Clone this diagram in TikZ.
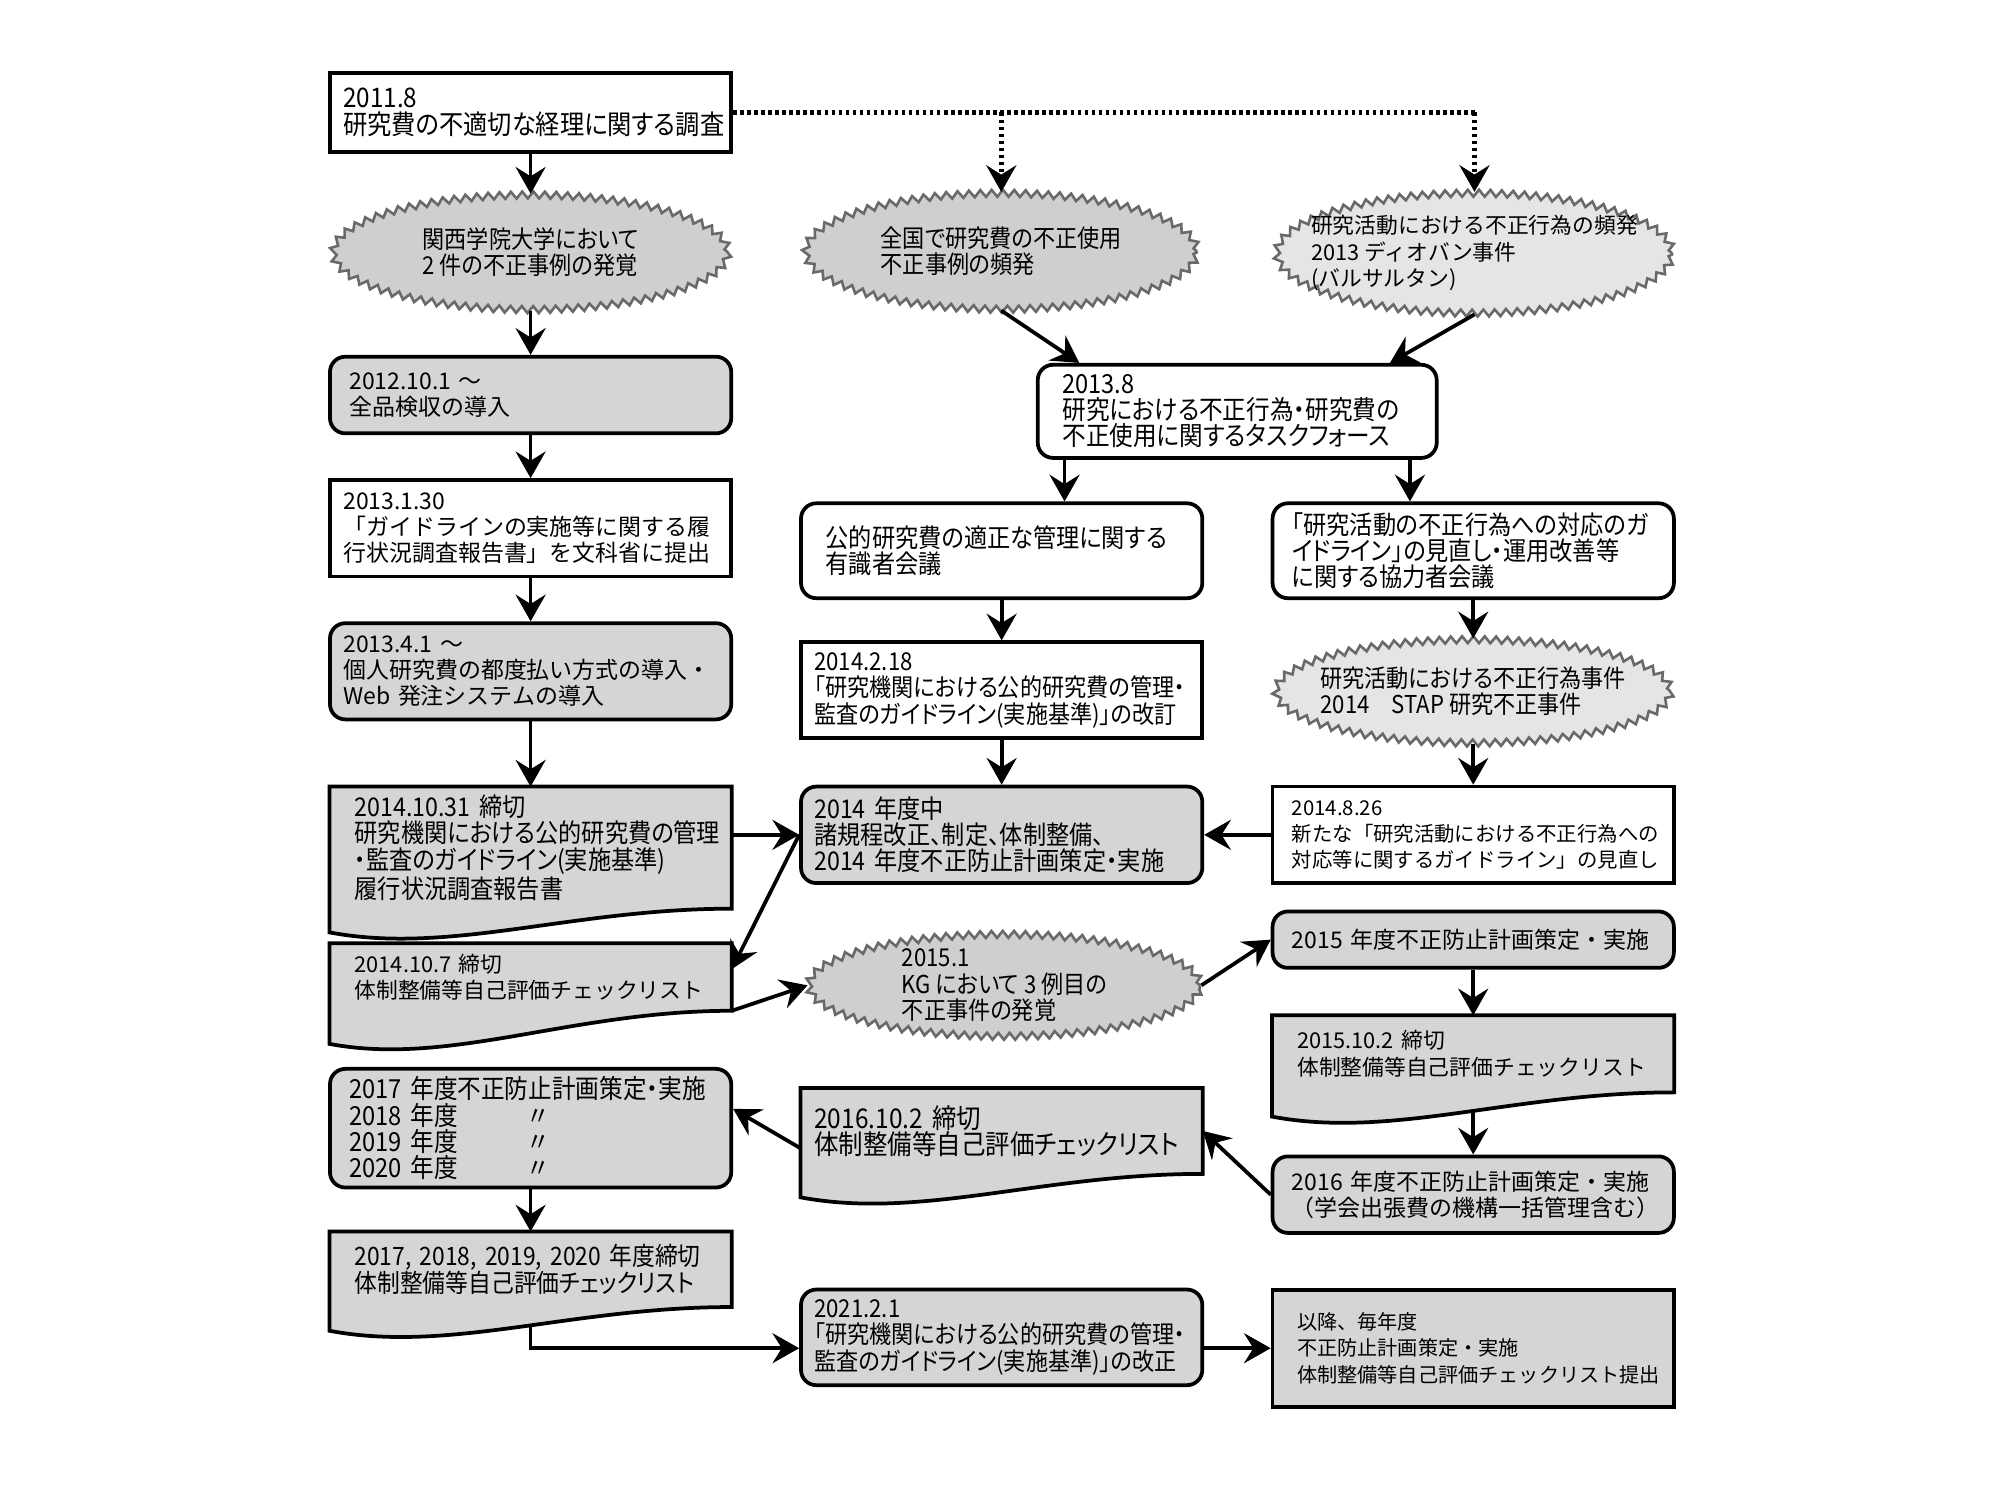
\documentclass[tikz,border=0pt]{standalone}
\usepackage{fontspec}
\setmainfont{Noto Sans CJK JP}
\newfontfamily\condjp{Noto Sans CJK JP}[FakeStretch=0.9,RawFeature=+palt]
\usetikzlibrary{shapes.geometric,decorations.pathmorphing,arrows.meta,backgrounds,calc}

\definecolor{boxgray}{RGB}{212,213,215}
\definecolor{burstgray}{RGB}{206,207,209}
\definecolor{burstlight}{RGB}{228,229,231}
\definecolor{burstline}{RGB}{105,105,105}

% font sizes: regular and condensed
\newcommand\rf[1]{\fontsize{#1pt}{11.2pt}\selectfont}
\newcommand\cf[1]{\condjp\fontsize{#1pt}{11.2pt}\selectfont}

\tikzset{
  box/.style={draw, line width=1.6pt, rectangle, align=left, minimum width=6.02cm, font=\rf{9.8}},
  padA/.style={inner xsep=0.2cm, text width=5.62cm},
  padB/.style={inner xsep=0.29cm, text width=5.44cm},
  padC/.style={inner xsep=0.37cm, text width=5.28cm},
  plainbox/.style={box, fill=white},
  roundbox/.style={box, rounded corners=0.23cm, fill=white},
  graybox/.style={roundbox, fill=boxgray},
  docbox/.style={rectangle, align=left, minimum width=6.02cm, anchor=north, font=\rf{9.8}},
  burst/.style={ellipse, draw=burstline, line width=1.1pt, fill=burstgray,
    inner xsep=-0.7cm, inner ysep=-0.25cm, align=left, font=\cf{10.5},
    decorate, decoration={zigzag, amplitude=0.052cm, segment length=0.17cm}},
  arr/.style={line width=1.6pt, -{Stealth[length=0.4cm, width=0.45cm, inset=0.14cm]}},
  dotline/.style={line width=2pt, dash pattern=on 1.5pt off 1.5pt},
  dotarr/.style={arr, dotline},
}

% document shape with wavy bottom behind a docbox node
\newcommand\docwave[2]{%
  \begin{scope}[on background layer]
    \filldraw[line width=1.6pt, fill=boxgray] (#1.north west) -- (#1.north east) -- (#1.south east)
      .. controls +(-2.41cm,0cm) and +(1.81cm,-0.34cm) .. ([yshift=-#2cm]#1.south west) -- cycle;
  \end{scope}
  \coordinate (#1-b) at ([yshift={-(0.118cm+0.44*#2cm)}]#1.south);
}

\begin{document}
\begin{tikzpicture}[x=0.019133cm, y=-0.019133cm]
  \useasboundingbox (0,0) rectangle (1568,1176);

  % left column
  \node[plainbox, padA, font=\cf{11.5}, minimum height=1.175cm] (survey) at (416,88.2)
    {2011.8\\研究費の不適切な経理に関する調査};
  \node[burst, minimum width=5.92cm, minimum height=1.72cm] (kgcase) at (416,197.8)
    {関西学院大学において\\2 件の不正事例の発覚};
  \node[graybox, padB, minimum height=1.15cm] (inspect) at (416,309.7)
    {2012.10.1 ～\\全品検収の導入};
  \node[plainbox, padA, minimum height=1.448cm] (report) at (416,414.2)
    {2013.1.30\\「ガイドラインの実施等に関する履\\行状況調査報告書」を文科省に提出};
  \node[graybox, padA, minimum height=1.443cm] (payment) at (416,526.3)
    {2013.4.1 ～\\個人研究費の都度払い方式の導入・\\Web 発注システムの導入};
  \node[docbox, padC, font=\cf{11}, minimum height=1.575cm] (check31) at (416,616.7)
    {2014.10.31 締切\\研究機関における公的研究費の管理\\・監査のガイドライン(実施基準)\\履行状況調査報告書};
  \node[docbox, padC, font=\rf{9.3}, minimum height=0.999cm] (check7) at (416,739.5)
    {2014.10.7 締切\\体制整備等自己評価チェックリスト};
  \node[graybox, padB, font=\cf{11.2}, minimum height=1.703cm] (plan17) at (416,884.5)
    {2017 年度不正防止計画策定・実施\\
     \makebox[2.66cm][l]{2018 年度}〃\\
     \makebox[2.66cm][l]{2019 年度}〃\\
     \makebox[2.66cm][l]{2020 年度}〃};
  \node[docbox, padC, font=\cf{10.8}, minimum height=1.119cm] (check17) at (416,965.5)
    {\mbox{2017, 2018, 2019, 2020 年度締切}\\体制整備等自己評価チェックリスト};

  % middle column
  \node[burst, minimum width=5.87cm, minimum height=1.74cm] (nation) at (785,197)
    {全国で研究費の不正使用\\不正事例の頻発};
  \node[roundbox, padC, font=\cf{11.2}, minimum width=5.985cm, text width=5.245cm,
    minimum height=1.397cm] (taskforce) at (970,322.5)
    {2013.8\\研究における不正行為・研究費の\\不正使用に関するタスクフォース};
  \node[roundbox, padC, font=\cf{11}, minimum height=1.424cm] (experts) at (785.3,431.8)
    {公的研究費の適正な管理に関する\\有識者会議};
  \node[plainbox, padA, font=\cf{10.5}, minimum height=1.441cm] (revise14) at (785.3,541.2)
    {2014.2.18\\「研究機関における公的研究費の管理・\\監査のガイドライン(実施基準)」の改訂};
  \node[graybox, padA, font=\cf{11}, minimum height=1.448cm] (fy14) at (785.3,654.5)
    {2014 年度中\\諸規程改正、制定、体制整備、\\2014 年度不正防止計画策定・実施};
  \node[burst, minimum width=5.87cm, minimum height=1.53cm] (kg3) at (787.5,772.5)
    {2015.1\\KG において 3 例目の\\不正事件の発覚};
  \node[docbox, padA, font=\cf{11.6}, minimum height=1.274cm] (check16) at (785.3,853)
    {2016.10.2 締切\\体制整備等自己評価チェックリスト};
  \node[graybox, padA, font=\cf{10.5}, minimum height=1.435cm] (revise21) at (785.3,1048.5)
    {2021.2.1\\「研究機関における公的研究費の管理・\\監査のガイドライン(実施基準)」の改正};

  % right column
  \node[burst, fill=burstlight, font=\rf{9.3}, minimum width=5.93cm, minimum height=1.80cm]
    (misconduct) at (1156,198.5) {研究活動における不正行為の頻発\\2013 ディオバン事件\\(バルサルタン)};
  \node[roundbox, padB, font=\cf{11}, minimum height=1.424cm] (cooperators) at (1155,431.8)
    {「研究活動の不正行為への対応のガ\\イドライン」の見直し・運用改善等\\に関する協力者会議};
  \node[burst, fill=burstlight, minimum width=5.92cm, minimum height=1.55cm] (stap) at (1155,542)
    {研究活動における不正行為事件\\2014　STAP 研究不正事件};
  \node[plainbox, padB, font=\rf{8.7}, minimum height=1.448cm] (guide26) at (1155,654.5)
    {2014.8.26\\新たな「研究活動における不正行為への\\対応等に関するガイドライン」の見直し};
  \node[graybox, padB, minimum height=0.846cm] (fy15) at (1155,736.7)
    {2015 年度不正防止計画策定・実施};
  \node[docbox, padC, font=\rf{9.3}, minimum height=1.142cm] (check15) at (1155,796)
    {2015.10.2 締切\\体制整備等自己評価チェックリスト};
  \node[graybox, padB, minimum height=1.148cm] (fy16) at (1155,936.6)
    {2016 年度不正防止計画策定・実施\\（学会出張費の機構一括管理含む）};
  \node[plainbox, fill=boxgray, padC, font=\rf{8.6}, minimum height=1.755cm] (yearly) at (1155,1057)
    {以降、毎年度\\不正防止計画策定・実施\\体制整備等自己評価チェックリスト提出};

  \docwave{check31}{0.356}
  \docwave{check7}{0.497}
  \docwave{check15}{0.364}
  \docwave{check16}{0.352}
  \docwave{check17}{0.356}

  % dotted links
  \coordinate (dotM) at (nation.north |- survey.east);
  \coordinate (dotR) at (misconduct.north |- survey.east);
  \draw[dotline] (survey.east) -- (dotR);
  \draw[dotarr] (dotM) -- (nation.north);
  \draw[dotarr] (dotR) -- (misconduct.north);

  % arrows
  \draw[arr] (survey) -- (kgcase);
  \draw[arr] (kgcase) -- (inspect);
  \draw[arr] (inspect) -- (report);
  \draw[arr] (report) -- (payment);
  \draw[arr] (payment) -- (check31);
  \draw[arr] (nation.south) -- ([xshift=0.65cm]taskforce.north west);
  \draw[arr] (misconduct.south) -- ([xshift=-0.73cm]taskforce.north east);
  \draw[arr] ([xshift=0.43cm]taskforce.south west) -- ([xshift=0.43cm]taskforce.south west |- experts.north);
  \draw[arr] ([xshift=-0.43cm]taskforce.south east) -- ([xshift=-0.43cm]taskforce.south east |- cooperators.north);
  \draw[arr] (experts) -- (revise14);
  \draw[arr] (revise14) -- (fy14);
  \draw[arr] (cooperators) -- (stap);
  \draw[arr] (stap) -- (guide26);
  \draw[arr] (guide26) -- (fy14);
  \draw[arr] (check31.east |- fy14.west) -- (fy14.west);
  \draw[arr] (fy14.west) -- ([yshift=-0.39cm]check7.north east);
  \draw[arr] (check7.south east) -- (kg3.west);
  \draw[arr] (kg3.east) -- (fy15.west);
  \draw[arr] (fy15) -- (check15);
  \draw[arr] (check15-b) -- (fy16.north);
  \draw[arr] (fy16.west) -- (check16.east);
  \draw[arr] ([yshift=-0.26cm]check16.west) -- ([yshift=0.29cm]plan17.east);
  \draw[arr] (plan17) -- (check17);
  \draw[arr] (check17-b) |- (revise21.west |- yearly.west);
  \draw[arr] (revise21.east |- yearly.west) -- (yearly.west);
\end{tikzpicture}
\end{document}
